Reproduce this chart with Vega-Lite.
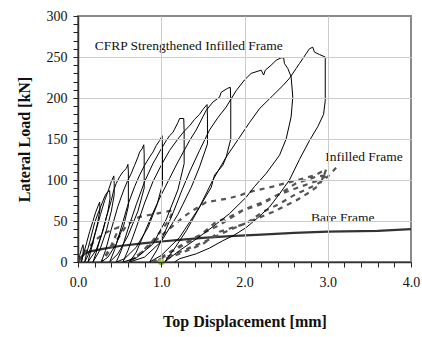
{
  "$schema": "https://vega.github.io/schema/vega-lite/v6.json",
  "width": 333,
  "height": 246,
  "autosize": {"type": "none"},
  "padding": {"left": 78, "top": 16, "right": 11, "bottom": 75},
  "background": "white",
  "config": {
    "font": "Liberation Serif",
    "view": {"stroke": "#8a8a8a", "strokeWidth": 2}
  },
  "datasets": {
    "cfrp": [
      {"d":0,"f":0},{"d":0.02,"f":8},{"d":0.04,"f":15},{"d":0.06,"f":21},{"d":0.065,"f":16},{"d":0.055,"f":6},{"d":0.04,"f":0},
      {"d":0.06,"f":8},{"d":0.1,"f":22},{"d":0.14,"f":37},{"d":0.18,"f":50},{"d":0.21,"f":60},{"d":0.24,"f":68},{"d":0.26,"f":73},{"d":0.265,"f":64},{"d":0.23,"f":45},{"d":0.17,"f":22},{"d":0.12,"f":8},{"d":0.08,"f":0},
      {"d":0.1,"f":9},{"d":0.15,"f":28},{"d":0.2,"f":48},{"d":0.25,"f":62},{"d":0.29,"f":72},{"d":0.33,"f":82},{"d":0.36,"f":86},{"d":0.38,"f":87},{"d":0.385,"f":78},{"d":0.36,"f":62},{"d":0.3,"f":38},{"d":0.22,"f":15},{"d":0.12,"f":0},
      {"d":0.15,"f":12},{"d":0.21,"f":36},{"d":0.27,"f":58},{"d":0.32,"f":75},{"d":0.36,"f":86},{"d":0.4,"f":98},{"d":0.43,"f":105},{"d":0.435,"f":96},{"d":0.435,"f":82},{"d":0.4,"f":62},{"d":0.34,"f":38},{"d":0.26,"f":14},{"d":0.18,"f":0},
      {"d":0.22,"f":12},{"d":0.29,"f":36},{"d":0.35,"f":58},{"d":0.4,"f":75},{"d":0.43,"f":88},{"d":0.46,"f":96},{"d":0.5,"f":104},{"d":0.54,"f":110},{"d":0.58,"f":114},{"d":0.6,"f":119},{"d":0.605,"f":110},{"d":0.605,"f":68},{"d":0.55,"f":45},{"d":0.46,"f":22},{"d":0.36,"f":6},{"d":0.28,"f":0},
      {"d":0.33,"f":14},{"d":0.4,"f":40},{"d":0.48,"f":68},{"d":0.55,"f":88},{"d":0.6,"f":100},{"d":0.64,"f":108},{"d":0.68,"f":118},{"d":0.72,"f":128},{"d":0.74,"f":134},{"d":0.77,"f":138},{"d":0.79,"f":143},{"d":0.795,"f":132},{"d":0.795,"f":90},{"d":0.72,"f":62},{"d":0.6,"f":32},{"d":0.48,"f":10},{"d":0.38,"f":0},
      {"d":0.44,"f":15},{"d":0.52,"f":42},{"d":0.6,"f":70},{"d":0.68,"f":92},{"d":0.74,"f":106},{"d":0.8,"f":118},{"d":0.86,"f":128},{"d":0.9,"f":134},{"d":0.94,"f":142},{"d":0.98,"f":148},{"d":1.01,"f":154},{"d":1.015,"f":140},{"d":1.015,"f":95},{"d":0.95,"f":70},{"d":0.84,"f":42},{"d":0.7,"f":18},{"d":0.56,"f":4},{"d":0.46,"f":0},
      {"d":0.52,"f":14},{"d":0.6,"f":40},{"d":0.7,"f":70},{"d":0.8,"f":98},{"d":0.9,"f":120},{"d":1.0,"f":138},{"d":1.06,"f":148},{"d":1.1,"f":154},{"d":1.14,"f":158},{"d":1.16,"f":162},{"d":1.2,"f":170},{"d":1.22,"f":175},{"d":1.27,"f":175},{"d":1.275,"f":160},{"d":1.275,"f":120},{"d":1.2,"f":88},{"d":1.06,"f":52},{"d":0.9,"f":22},{"d":0.7,"f":5},{"d":0.54,"f":0},
      {"d":0.6,"f":14},{"d":0.7,"f":42},{"d":0.8,"f":72},{"d":0.9,"f":98},{"d":1.0,"f":118},{"d":1.1,"f":136},{"d":1.2,"f":150},{"d":1.28,"f":160},{"d":1.34,"f":166},{"d":1.4,"f":174},{"d":1.46,"f":180},{"d":1.5,"f":186},{"d":1.55,"f":192},{"d":1.555,"f":178},{"d":1.555,"f":144},{"d":1.46,"f":116},{"d":1.36,"f":91},{"d":1.2,"f":58},{"d":1.0,"f":25},{"d":0.8,"f":6},{"d":0.62,"f":0},
      {"d":0.7,"f":12},{"d":0.8,"f":36},{"d":0.9,"f":60},{"d":1.0,"f":82},{"d":1.1,"f":102},{"d":1.2,"f":122},{"d":1.34,"f":148},{"d":1.42,"f":161},{"d":1.5,"f":177},{"d":1.54,"f":185},{"d":1.62,"f":195},{"d":1.7,"f":201},{"d":1.72,"f":207},{"d":1.8,"f":212},{"d":1.83,"f":213},{"d":1.835,"f":195},{"d":1.835,"f":150},{"d":1.78,"f":128},{"d":1.74,"f":118},{"d":1.64,"f":106},{"d":1.6,"f":91},{"d":1.46,"f":67},{"d":1.22,"f":30},{"d":1.0,"f":8},{"d":0.86,"f":0},
      {"d":0.95,"f":15},{"d":1.05,"f":38},{"d":1.15,"f":62},{"d":1.25,"f":88},{"d":1.35,"f":112},{"d":1.46,"f":136},{"d":1.58,"f":161},{"d":1.68,"f":176},{"d":1.78,"f":189},{"d":1.9,"f":209},{"d":2.0,"f":222},{"d":2.08,"f":230},{"d":2.2,"f":234},{"d":2.23,"f":228},{"d":2.25,"f":234},{"d":2.32,"f":240},{"d":2.38,"f":246},{"d":2.44,"f":249},{"d":2.47,"f":249},{"d":2.48,"f":242},{"d":2.52,"f":236},{"d":2.56,"f":226},{"d":2.58,"f":201},{"d":2.56,"f":177},{"d":2.5,"f":150},{"d":2.42,"f":130},{"d":2.26,"f":108},{"d":2.12,"f":92},{"d":2.02,"f":79},{"d":1.82,"f":59},{"d":1.62,"f":43},{"d":1.42,"f":28},{"d":1.22,"f":14},{"d":1.04,"f":0},
      {"d":1.15,"f":15},{"d":1.3,"f":38},{"d":1.45,"f":65},{"d":1.62,"f":100},{"d":1.78,"f":128},{"d":1.94,"f":152},{"d":2.06,"f":170},{"d":2.18,"f":187},{"d":2.34,"f":203},{"d":2.46,"f":215},{"d":2.54,"f":224},{"d":2.62,"f":236},{"d":2.66,"f":242},{"d":2.7,"f":248},{"d":2.74,"f":254},{"d":2.78,"f":260},{"d":2.82,"f":262},{"d":2.84,"f":256},{"d":2.9,"f":253},{"d":2.97,"f":250},{"d":2.97,"f":197},{"d":2.95,"f":180},{"d":2.88,"f":165},{"d":2.78,"f":148},{"d":2.66,"f":125},{"d":2.54,"f":100},{"d":2.42,"f":83},{"d":2.3,"f":67},{"d":2.16,"f":54},{"d":2.02,"f":42},{"d":1.88,"f":33},{"d":1.74,"f":26},{"d":1.58,"f":17},{"d":1.42,"f":10},{"d":1.22,"f":4},{"d":1.16,"f":0}
    ],
    "infilled": [
      {"d":0,"f":0},{"d":0.1,"f":14},{"d":0.2,"f":26},{"d":0.3,"f":34},{"d":0.4,"f":39},{"d":0.48,"f":42},
      {"d":0.46,"f":34},{"d":0.4,"f":20},{"d":0.32,"f":6},{"d":0.28,"f":0},
      {"d":0.34,"f":8},{"d":0.42,"f":20},{"d":0.5,"f":32},{"d":0.58,"f":44},{"d":0.66,"f":51},{"d":0.74,"f":55},{"d":0.84,"f":57},{"d":0.94,"f":59},{"d":1.04,"f":61},{"d":1.14,"f":63},
      {"d":1.1,"f":52},{"d":1.0,"f":38},{"d":0.88,"f":24},{"d":0.74,"f":10},{"d":0.6,"f":0},
      {"d":0.7,"f":6},{"d":0.86,"f":20},{"d":1.0,"f":32},{"d":1.14,"f":44},{"d":1.28,"f":56},{"d":1.4,"f":64},{"d":1.54,"f":73},{"d":1.66,"f":75},{"d":1.78,"f":77},{"d":1.94,"f":81},{"d":2.04,"f":85},{"d":2.34,"f":92},{"d":2.64,"f":100},{"d":2.85,"f":106},{"d":2.98,"f":113},
      {"d":2.95,"f":104},{"d":2.9,"f":94},{"d":2.78,"f":85},{"d":2.62,"f":75},{"d":2.34,"f":61},{"d":2.1,"f":51},{"d":1.8,"f":38},{"d":1.5,"f":24},{"d":1.22,"f":12},{"d":1.0,"f":4},{"d":0.9,"f":0},
      {"d":1.0,"f":6},{"d":1.22,"f":18},{"d":1.46,"f":32},{"d":1.66,"f":49},{"d":1.82,"f":55},{"d":2.02,"f":65},{"d":2.22,"f":73},{"d":2.42,"f":83},{"d":2.62,"f":96},{"d":2.86,"f":104},{"d":3.0,"f":106},
      {"d":2.9,"f":100},{"d":2.62,"f":90},{"d":2.38,"f":81},{"d":2.22,"f":71},{"d":1.98,"f":63},{"d":1.7,"f":45},{"d":1.5,"f":35},{"d":1.3,"f":24},{"d":1.1,"f":12},{"d":0.95,"f":0},
      {"d":1.05,"f":4},{"d":1.22,"f":10},{"d":1.5,"f":22},{"d":1.7,"f":37},{"d":2.02,"f":47},{"d":2.22,"f":61},{"d":2.42,"f":71},{"d":2.62,"f":83},{"d":2.86,"f":94},{"d":3.0,"f":104},{"d":3.1,"f":115}
    ],
    "bare": [
      {"d":0,"f":0},{"d":0.04,"f":6},{"d":0.08,"f":10},{"d":0.15,"f":13},{"d":0.3,"f":16},{"d":0.5,"f":19.5},{"d":0.8,"f":23},{"d":1.0,"f":25},{"d":1.22,"f":27},{"d":1.5,"f":29.5},{"d":1.83,"f":31.5},{"d":2.2,"f":33.5},{"d":2.6,"f":35.5},{"d":3.0,"f":37},{"d":3.6,"f":38},{"d":4.0,"f":40}
    ],
    "notes": [
      {"d":0.2,"f":263,"t":"CFRP Strengthened Infilled Frame"},
      {"d":2.97,"f":128,"t":"Infilled Frame"},
      {"d":2.8,"f":54,"t":"Bare Frame"}
    ],
    "marker": [{"d":1.0,"f":0}]
  },
  "encoding": {
    "x": {
      "field": "d",
      "type": "quantitative",
      "scale": {"domain": [0, 4], "nice": false, "zero": false},
      "title": "Top Displacement [mm]",
      "axis": {
        "values": [0,0.2,0.4,0.6,0.8,1,1.2,1.4,1.6,1.8,2,2.2,2.4,2.6,2.8,3,3.2,3.4,3.6,3.8,4],
        "labelExpr": "abs(datum.value - round(datum.value)) < 0.000001 ? format(datum.value, '.1f') : ''",
        "labelFont": "Liberation Serif",
        "labelFontSize": 14,
        "labelColor": "#111111",
        "labelOverlap": false,
        "labelFlush": false,
        "labelPadding": 8,
        "tickSize": 5,
        "tickColor": "#222222",
        "tickOpacity": 1,
        "domainColor": "#333333",
        "domainWidth": 1.5,
        "grid": true,
        "gridColor": "#cccccc",
        "gridOpacity": {"condition": {"test": "abs(datum.value - round(datum.value)) < 0.000001 && datum.value > 0 && datum.value < 4", "value": 1}, "value": 0},
        "titleFont": "Liberation Serif",
        "titleFontSize": 16,
        "titleFontWeight": "bold",
        "titleColor": "#111111",
        "titlePadding": 24,
        "zindex": 1
      }
    },
    "y": {
      "field": "f",
      "type": "quantitative",
      "scale": {"domain": [0, 300], "nice": false},
      "title": "Lateral Load [kN]",
      "axis": {
        "values": [0,10,20,30,40,50,60,70,80,90,100,110,120,130,140,150,160,170,180,190,200,210,220,230,240,250,260,270,280,290,300],
        "labelExpr": "datum.value % 50 === 0 ? datum.label : ''",
        "labelFont": "Liberation Serif",
        "labelFontSize": 14,
        "labelColor": "#111111",
        "labelOverlap": false,
        "labelFlush": false,
        "labelPadding": 6,
        "tickSize": 5,
        "tickColor": "#222222",
        "tickOpacity": 1,
        "domainColor": "#333333",
        "domainWidth": 1.5,
        "grid": true,
        "gridColor": "#cccccc",
        "gridOpacity": {"condition": {"test": "datum.value % 50 === 0 && datum.value > 0 && datum.value < 300", "value": 1}, "value": 0},
        "titleFont": "Liberation Serif",
        "titleFontSize": 16,
        "titleFontWeight": "bold",
        "titleColor": "#111111",
        "titlePadding": 14,
        "zindex": 1
      }
    }
  },
  "layer": [
    {
      "data": {"name": "bare"},
      "transform": [{"window": [{"op": "row_number", "as": "i"}]}],
      "mark": {"type": "line", "color": "#333333", "strokeWidth": 2.2, "clip": true},
      "encoding": {"order": {"field": "i", "type": "quantitative"}}
    },
    {
      "data": {"name": "infilled"},
      "transform": [{"window": [{"op": "row_number", "as": "i"}]}],
      "mark": {"type": "line", "color": "#555555", "strokeWidth": 2.2, "strokeDash": [5, 5], "clip": true},
      "encoding": {"order": {"field": "i", "type": "quantitative"}}
    },
    {
      "data": {"name": "cfrp"},
      "transform": [{"window": [{"op": "row_number", "as": "i"}]}],
      "mark": {"type": "line", "color": "#000000", "strokeWidth": 1, "clip": true},
      "encoding": {"order": {"field": "i", "type": "quantitative"}}
    },
    {
      "data": {"name": "marker"},
      "mark": {"type": "point", "filled": true, "color": "#9acd32", "size": 40, "opacity": 1},
      "encoding": {}
    },
    {
      "data": {"name": "notes"},
      "mark": {"type": "text", "align": "left", "baseline": "middle", "font": "Liberation Serif", "fontSize": 13.5, "color": "#111111"},
      "encoding": {"text": {"field": "t"}}
    }
  ]
}
